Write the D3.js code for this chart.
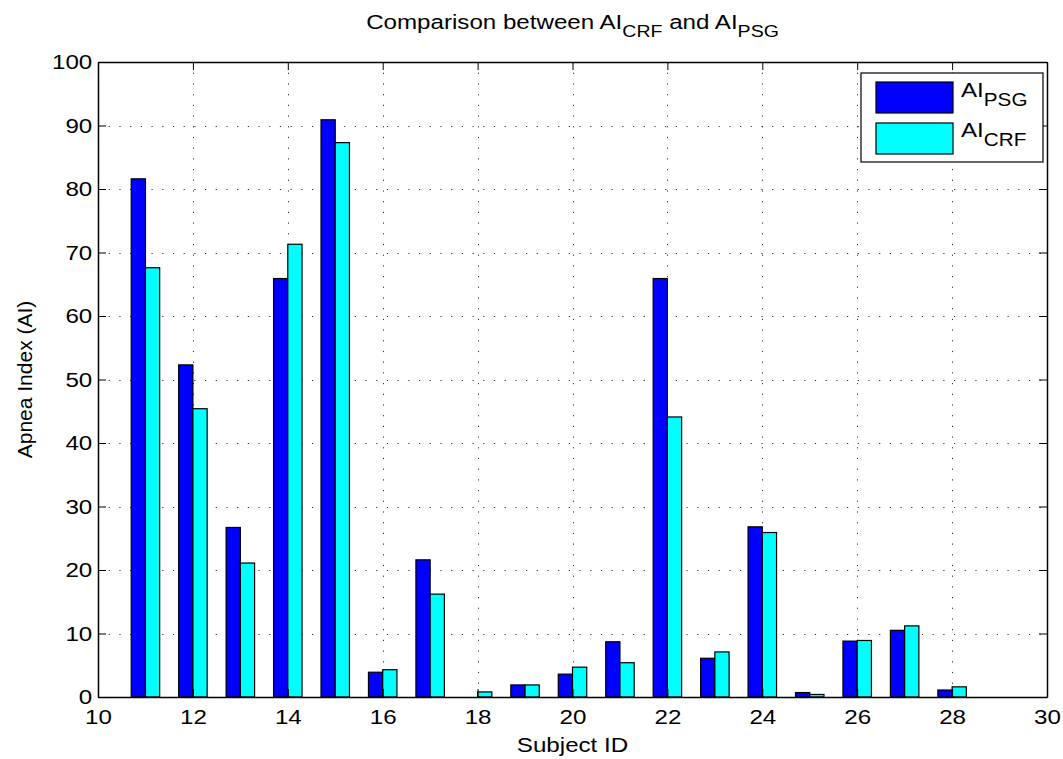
<!DOCTYPE html>
<html>
<head>
<meta charset="utf-8">
<script src="https://cdn.jsdelivr.net/npm/d3@7"></script>
<style>
  body { margin: 0; background: #fff; }
  text { font-family: "Liberation Sans", Arial, sans-serif; fill: #000; }
</style>
</head>
<body>
<script>
const subjects = [11, 12, 13, 14, 15, 16, 17, 18, 19, 20, 21, 22, 23, 24, 25, 26, 27, 28];
const aiPSG = [81.6, 52.3, 26.7, 65.9, 90.9, 3.9, 21.6, 0, 1.9, 3.6, 8.7, 65.9, 6.1, 26.8, 0.7, 8.8, 10.5, 1.1];
const aiCRF = [67.6, 45.4, 21.1, 71.3, 87.3, 4.3, 16.2, 0.8, 1.9, 4.7, 5.4, 44.1, 7.1, 25.9, 0.4, 8.9, 11.2, 1.6];
const xTicks = [10, 12, 14, 16, 18, 20, 22, 24, 26, 28, 30];
const yTicks = [0, 10, 20, 30, 40, 50, 60, 70, 80, 90, 100];

const width = 1063, height = 759;
const margin = { left: 98, right: 16, top: 62, bottom: 62 };
const fs = 21;          // font size
const sx = 1.15;        // horizontal stretch of the text, as in the reference

const svg = d3.select('body').append('svg')
  .attr('width', width)
  .attr('height', height);

const x = d3.scaleLinear().domain([10, 30]).range([margin.left, width - margin.right]);
const y = d3.scaleLinear().domain([0, 100]).range([height - margin.bottom, margin.top]);

// dotted grid
const grid = svg.append('g')
  .attr('stroke', '#333')
  .attr('stroke-width', 1)
  .attr('stroke-dasharray', '1.2,9.5');
grid.selectAll('.gx')
  .data(xTicks.slice(1, -1))
  .enter().append('line')
  .attr('x1', d => Math.round(x(d)) + 0.5).attr('x2', d => Math.round(x(d)) + 0.5)
  .attr('y1', y(100)).attr('y2', y(0));
grid.selectAll('.gy')
  .data(yTicks.slice(1, -1))
  .enter().append('line')
  .attr('y1', d => Math.round(y(d)) + 0.5).attr('y2', d => Math.round(y(d)) + 0.5)
  .attr('x1', x(10)).attr('x2', x(30));

// grouped bars
const bw = x(10.3) - x(10);
const rows = subjects.map((s, i) => ({ s: s, psg: aiPSG[i], crf: aiCRF[i] }));
const bars = svg.append('g').attr('stroke', '#000').attr('stroke-width', 1.2);
bars.selectAll('.psg')
  .data(rows)
  .enter().append('rect')
  .attr('x', d => x(d.s) - bw)
  .attr('y', d => y(d.psg))
  .attr('width', bw)
  .attr('height', d => y(0) - y(d.psg))
  .attr('fill', '#0000ff');
bars.selectAll('.crf')
  .data(rows)
  .enter().append('rect')
  .attr('x', d => x(d.s))
  .attr('y', d => y(d.crf))
  .attr('width', bw)
  .attr('height', d => y(0) - y(d.crf))
  .attr('fill', '#00ffff');

// box axes, ticks pointing in
const tl = 8;
const axB = svg.append('g').attr('transform', `translate(0,${y(0)})`)
  .call(d3.axisBottom(x).tickValues(xTicks).tickSizeInner(-tl).tickSizeOuter(0).tickPadding(12));
const axT = svg.append('g').attr('transform', `translate(0,${y(100)})`)
  .call(d3.axisTop(x).tickValues(xTicks).tickSizeInner(-tl).tickSizeOuter(0).tickFormat(''));
const axL = svg.append('g').attr('transform', `translate(${x(10)},0)`)
  .call(d3.axisLeft(y).tickValues(yTicks).tickSizeInner(-tl).tickSizeOuter(0).tickPadding(5));
const axR = svg.append('g').attr('transform', `translate(${x(30)},0)`)
  .call(d3.axisRight(y).tickValues(yTicks).tickSizeInner(-tl).tickSizeOuter(0).tickFormat(''));
[axB, axT, axL, axR].forEach(a => {
  a.selectAll('path').attr('stroke', '#000').attr('stroke-width', 1.5);
  a.selectAll('line').attr('stroke', '#000').attr('stroke-width', 1);
  a.selectAll('text')
    .attr('font-size', fs)
    .attr('font-family', '"Liberation Sans", Arial, sans-serif')
    .attr('fill', '#000')
    .attr('transform', `scale(${sx},1)`);
});

// helper for stretched text
function label(px, py, rot) {
  return svg.append('g')
    .attr('transform', `translate(${px},${py})` + (rot ? ` rotate(${rot})` : '') + ` scale(${sx},1)`)
    .append('text')
    .attr('text-anchor', 'middle')
    .attr('font-size', fs);
}

// title
const title = label((x(10) + x(30)) / 2, 29);
title.append('tspan').text('Comparison between AI');
title.append('tspan').attr('font-size', 17).attr('dy', 8).text('CRF');
title.append('tspan').attr('dy', -8).text(' and AI');
title.append('tspan').attr('font-size', 17).attr('dy', 8).text('PSG');

// axis labels
label((x(10) + x(30)) / 2, 752).text('Subject ID');
svg.append('text')
  .attr('transform', `translate(32,${(y(0) + y(100)) / 2}) rotate(-90)`)
  .attr('text-anchor', 'middle')
  .attr('font-size', fs)
  .text('Apnea Index (AI)');

// legend
const legend = svg.append('g').attr('transform', 'translate(861,73)');
legend.append('rect')
  .attr('width', 182).attr('height', 89)
  .attr('fill', '#fff').attr('stroke', '#000').attr('stroke-width', 1.2);
const items = [{ name: 'PSG', color: '#0000ff' }, { name: 'CRF', color: '#00ffff' }];
items.forEach((it, i) => {
  legend.append('rect')
    .attr('x', 15).attr('y', 9 + i * 41)
    .attr('width', 77).attr('height', 31)
    .attr('fill', it.color).attr('stroke', '#000').attr('stroke-width', 1.2);
  const t = legend.append('g')
    .attr('transform', `translate(100,${24 + i * 40}) scale(${sx},1)`)
    .append('text')
    .attr('font-size', fs);
  t.append('tspan').text('AI');
  t.append('tspan').attr('font-size', 18).attr('dy', 9).text(it.name);
});
</script>
</body>
</html>
